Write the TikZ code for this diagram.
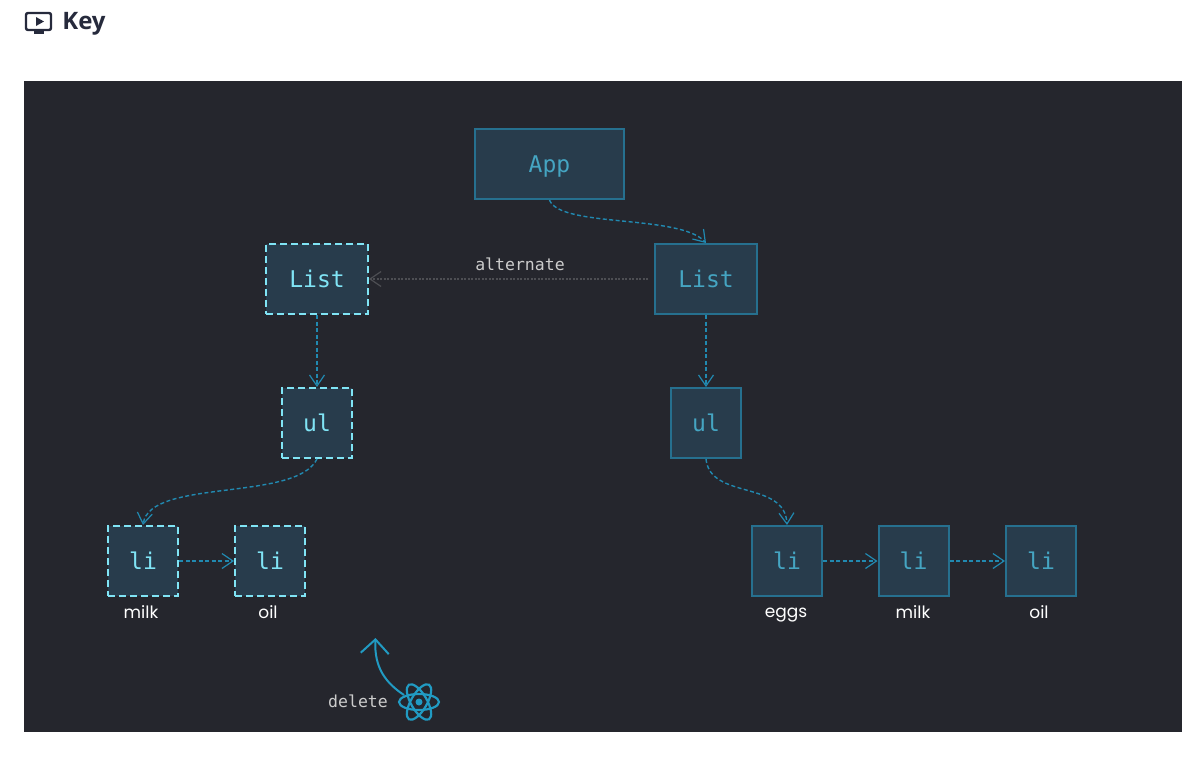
\documentclass[tikz,border=0pt]{standalone}
\usepackage{fontspec}
\setmainfont{Poppins}
\setmonofont{DejaVu Sans Mono}
\newfontfamily\keyfont{Open Sans}
\usetikzlibrary{arrows.meta}
\definecolor{fond}{HTML}{25262D}
\definecolor{boite}{HTML}{283C4C}
\definecolor{trait}{HTML}{26708F}
\definecolor{texte}{HTML}{45A5C2}
\definecolor{cyan}{HTML}{80E4F5}
\definecolor{fleche}{HTML}{2189B0}
\definecolor{logo}{HTML}{219BC3}
\definecolor{gris}{HTML}{4D4E53}
\definecolor{titre}{HTML}{262A3C}
\tikzset{
  tip/.style = {-{Straight Barb[length=11pt,width=15pt,line width=1.2pt]}},
  lien/.style = {tip, draw=fleche, line width=1.4pt, dash pattern=on 4pt off 2.5pt},
  boite/.style = {draw=trait, fill=boite, line width=2pt, text=texte, inner sep=0pt,
    text height=17pt, text depth=0pt, font=\ttfamily\fontsize{23}{23}\selectfont},
  pointille/.style = {boite, draw=cyan, text=cyan, dash pattern=on 7pt off 4pt},
  nom/.style = {text=white, anchor=base, font=\fontsize{17}{17}\selectfont},
  note/.style = {text=black!20, font=\ttfamily\fontsize{16.5}{16.5}\selectfont},
}
\begin{document}
\begin{tikzpicture}[x=1pt, y=-1pt]
  \useasboundingbox (0,0) rectangle (1194,756);
  \fill[fond] (24,81) rectangle (1182,732);

  % titre
  \draw[titre, line width=2.4pt, rounded corners=2pt] (26,13) rectangle (51,30);
  \fill[titre] (34,31) rectangle (44,34);
  \fill[titre] (36,17) -- (44,21.5) -- (36,26) -- cycle;
  \node[text=titre, font=\keyfont\bfseries\fontsize{24}{24}\selectfont] (key) at (84,24) {Key};

  % les boites
  \node[boite, minimum width=149pt, minimum height=70pt] (app) at (549.5,164) {App};
  \node[boite, minimum width=102pt, minimum height=70pt] (listR) at (706,279) {List};
  \node[pointille, minimum width=102pt, minimum height=70pt] (listL) at (317,279) {List};
  \node[boite, minimum width=70pt, minimum height=70pt] (ulR) at (706,423) {ul};
  \node[pointille, minimum width=70pt, minimum height=70pt] (ulL) at (317,423) {ul};
  \foreach \nomli/\x in {a/143, b/270}
    \node[pointille, minimum width=70pt, minimum height=70pt] (li\nomli) at (\x,561) {li};
  \foreach \nomli/\x in {c/787, d/913.5, e/1041}
    \node[boite, minimum width=70pt, minimum height=70pt] (li\nomli) at (\x,561) {li};

  % les noms
  \foreach \i/\x/\y/\mot in {1/141/618/milk, 2/268/618/oil, 3/786/617/eggs, 4/913/618/milk, 5/1039/618/oil}
    \node[nom] (nom\i) at (\x,\y) {\mot};
  \node[note] (alt) at (520,264) {alternate};
  \node[note] (del) at (358,701) {delete};

  % les fleches
  \draw[lien] (app.south) .. controls (560,228) and (680,214) .. (listR.north);
  \draw[lien] (listR.south) -- (ulR.north);
  \draw[lien] (listL.south) -- (ulL.north);
  \draw[lien] (ulL.south) .. controls (296,502) and (150,478) .. (lia.north);
  \draw[lien] (ulR.south) .. controls (710,500) and (785,480) .. (lic.north);
  \draw[lien] (lia.east) -- (lib.west);
  \draw[lien] (lic.east) -- (lid.west);
  \draw[lien] (lid.east) -- (lie.west);
  \draw[tip, gris, line width=1.4pt, dash pattern=on 2pt off 1.5pt, shorten <=6pt] (listR.west) -- (listL.east);

  % le logo
  \coordinate (atome) at (419,702);
  \coordinate (haut) at (375.5,638);
  \foreach \a in {0,60,120}
    \draw[logo, line width=2.2pt, rotate around={\a:(atome)}] (atome) ellipse (20pt and 8pt);
  \fill[logo] (atome) circle (3.5pt);
  \draw[-{Straight Barb[length=14pt,width=28pt,line width=2pt]}, logo, line width=2pt]
    (404,695) .. controls (386,683) and (374,668) .. (haut);
\end{tikzpicture}
\end{document}
